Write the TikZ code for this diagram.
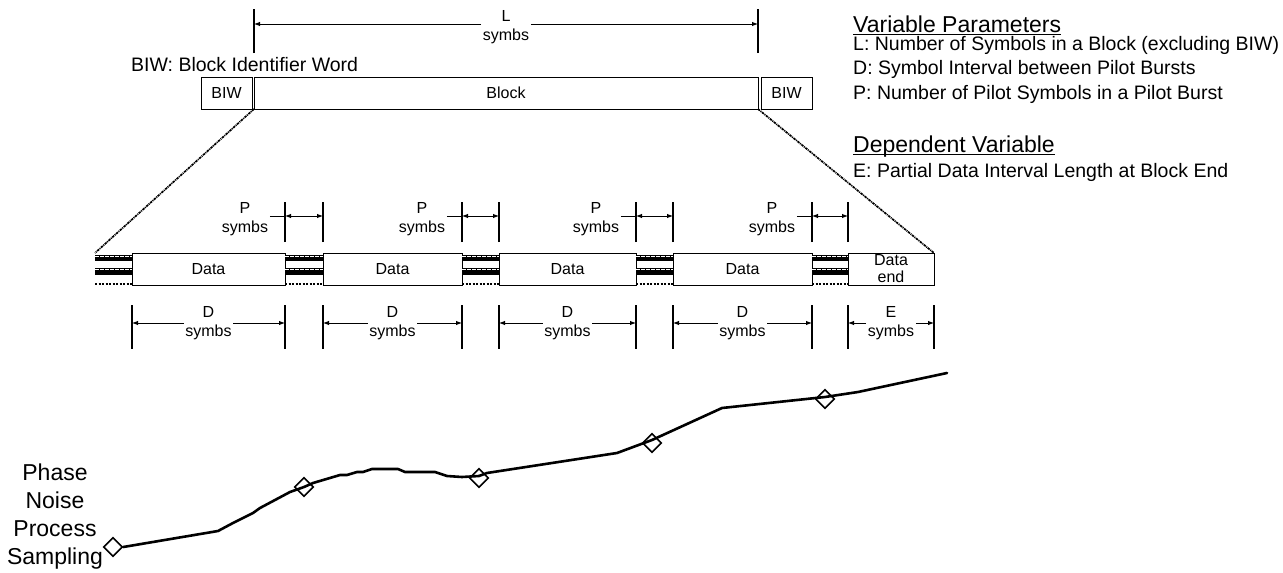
\documentclass[tikz,border=0pt]{standalone}
\usepackage{fontspec}
\setmainfont{Liberation Sans}
\usetikzlibrary{arrows.meta,positioning,shapes.geometric}

\begin{document}
\begin{tikzpicture}[x=1pt, y=-1pt,
                    >={Latex[length=6pt,width=4.5pt]},
                    every node/.style={font=\fontsize{16}{19}\selectfont},
                    box/.style={draw, line width=0.9pt, minimum height=32pt,
                                inner sep=0pt, outer sep=0pt, anchor=north west, align=center},
                    pilot/.style={minimum width=#1, minimum height=32pt, inner sep=0pt,
                                  outer sep=0pt, anchor=north west,
                                  path picture={
                                    \fill ([yshift=-2pt]path picture bounding box.north west)
                                      rectangle ([yshift=-8pt]path picture bounding box.north east);
                                    \fill ([yshift=-15pt]path picture bounding box.north west)
                                      rectangle ([yshift=-22pt]path picture bounding box.north east);
                                    \draw[white, line width=1.4pt, dash pattern=on 3.5pt off 1.5pt]
                                      ([yshift=-3.5pt]path picture bounding box.north west)
                                      -- ([yshift=-3.5pt]path picture bounding box.north east);
                                    \draw[white, line width=1.4pt, dash pattern=on 3.5pt off 1.5pt]
                                      ([yshift=-16.5pt]path picture bounding box.north west)
                                      -- ([yshift=-16.5pt]path picture bounding box.north east);
                                    \draw[line width=1.5pt, dash pattern=on 2pt off 1.5pt]
                                      ([yshift=-31pt]path picture bounding box.north west)
                                      -- ([yshift=-31pt]path picture bounding box.north east);}},
                    lbl/.style={align=center, inner sep=1.5pt},
                    tickln/.style={line width=1.8pt},
                    dimln/.style={line width=0.9pt},
                    zoomln/.style={line width=1.7pt, dash pattern=on 2.5pt off 0.8pt on 1pt off 0.8pt},
                    txt/.style={anchor=base west, inner sep=0pt, font=\fontsize{19.5}{23}\selectfont},
                    hd/.style={anchor=base west, inner sep=0pt, font=\fontsize{23}{27}\selectfont},
                    phase/.style={line width=2.6pt, line join=round, line cap=round},
                    smp/.style={diamond, draw, line width=1.6pt, minimum size=19pt, inner sep=0pt}]
\useasboundingbox (0,0) rectangle (1283,573);

% block with its identifier words
\node[box, minimum width=51pt]  (BIWl)  at (201,77) {BIW};
\node[box, minimum width=504pt] (Block) at (254,77) {Block};
\node[box, minimum width=51pt]  (BIWr)  at (761,77) {BIW};
\node[txt] (BIWdef) at (131,71) {BIW: Block Identifier Word};

\draw[tickln] ([yshift=24pt]Block.north west) -- ([yshift=68pt]Block.north west);
\draw[tickln] ([yshift=24pt]Block.north east) -- ([yshift=68pt]Block.north east);
\coordinate (Ll) at ([yshift=53pt]Block.north west);
\coordinate (Lr) at ([yshift=53pt]Block.north east);
\node[lbl] (Llbl) at ([yshift=50pt]Block.north) {L\\symbs};
\draw[dimln,->] (Llbl.west |- Ll) -- (Ll);
\draw[dimln,->] (Llbl.east |- Lr) -- (Lr);

% data and pilot bursts
\node[pilot=37pt] (pilot0) at (95,253)  {};
\node[box, minimum width=153pt] (data1) at (132,253) {Data};
\node[pilot=38pt] (pilot1) at (285,253) {};
\node[box, minimum width=139pt] (data2) at (323,253) {Data};
\node[pilot=37pt] (pilot2) at (462,253) {};
\node[box, minimum width=137pt] (data3) at (499,253) {Data};
\node[pilot=37pt] (pilot3) at (636,253) {};
\node[box, minimum width=139pt] (data4) at (673,253) {Data};
\node[pilot=36pt] (pilot4) at (812,253) {};
\node[box, minimum width=86pt, font=\fontsize{16}{17}\selectfont] (dataE) at (848,253) {Data\\end};

\draw[zoomln] (Block.south west) -- (pilot0.north west);
\draw[zoomln] (Block.south east) -- (dataE.north east);

% P symbs
\draw[tickln] ([yshift=11pt]pilot1.north west) -- ([yshift=51pt]pilot1.north west);
\draw[tickln] ([yshift=11pt]pilot1.north east) -- ([yshift=51pt]pilot1.north east);
\coordinate (P1l) at ([yshift=37pt]pilot1.north west);
\coordinate (P1r) at ([yshift=37pt]pilot1.north east);
\node[lbl] (P1lbl) at ([xshift=-40pt,yshift=34pt]pilot1.north west) {P\\symbs};
\draw[dimln] (P1lbl.east |- P1l) -- (P1l);
\draw[dimln,<->] (P1l) -- (P1r);

\draw[tickln] ([yshift=11pt]pilot2.north west) -- ([yshift=51pt]pilot2.north west);
\draw[tickln] ([yshift=11pt]pilot2.north east) -- ([yshift=51pt]pilot2.north east);
\coordinate (P2l) at ([yshift=37pt]pilot2.north west);
\coordinate (P2r) at ([yshift=37pt]pilot2.north east);
\node[lbl] (P2lbl) at ([xshift=-40pt,yshift=34pt]pilot2.north west) {P\\symbs};
\draw[dimln] (P2lbl.east |- P2l) -- (P2l);
\draw[dimln,<->] (P2l) -- (P2r);

\draw[tickln] ([yshift=11pt]pilot3.north west) -- ([yshift=51pt]pilot3.north west);
\draw[tickln] ([yshift=11pt]pilot3.north east) -- ([yshift=51pt]pilot3.north east);
\coordinate (P3l) at ([yshift=37pt]pilot3.north west);
\coordinate (P3r) at ([yshift=37pt]pilot3.north east);
\node[lbl] (P3lbl) at ([xshift=-40pt,yshift=34pt]pilot3.north west) {P\\symbs};
\draw[dimln] (P3lbl.east |- P3l) -- (P3l);
\draw[dimln,<->] (P3l) -- (P3r);

\draw[tickln] ([yshift=11pt]pilot4.north west) -- ([yshift=51pt]pilot4.north west);
\draw[tickln] ([yshift=11pt]pilot4.north east) -- ([yshift=51pt]pilot4.north east);
\coordinate (P4l) at ([yshift=37pt]pilot4.north west);
\coordinate (P4r) at ([yshift=37pt]pilot4.north east);
\node[lbl] (P4lbl) at ([xshift=-40pt,yshift=34pt]pilot4.north west) {P\\symbs};
\draw[dimln] (P4lbl.east |- P4l) -- (P4l);
\draw[dimln,<->] (P4l) -- (P4r);

% D and E symbs
\draw[tickln] ([yshift=-20pt]data1.south west) -- ([yshift=-64pt]data1.south west);
\draw[tickln] ([yshift=-20pt]data1.south east) -- ([yshift=-64pt]data1.south east);
\node[lbl] (D1) at ([yshift=-38pt]data1.south) {D\\symbs};
\draw[dimln,->] (D1.west) -- (D1.west -| data1.west);
\draw[dimln,->] (D1.east) -- (D1.east -| data1.east);

\draw[tickln] ([yshift=-20pt]data2.south west) -- ([yshift=-64pt]data2.south west);
\draw[tickln] ([yshift=-20pt]data2.south east) -- ([yshift=-64pt]data2.south east);
\node[lbl] (D2) at ([yshift=-38pt]data2.south) {D\\symbs};
\draw[dimln,->] (D2.west) -- (D2.west -| data2.west);
\draw[dimln,->] (D2.east) -- (D2.east -| data2.east);

\draw[tickln] ([yshift=-20pt]data3.south west) -- ([yshift=-64pt]data3.south west);
\draw[tickln] ([yshift=-20pt]data3.south east) -- ([yshift=-64pt]data3.south east);
\node[lbl] (D3) at ([yshift=-38pt]data3.south) {D\\symbs};
\draw[dimln,->] (D3.west) -- (D3.west -| data3.west);
\draw[dimln,->] (D3.east) -- (D3.east -| data3.east);

\draw[tickln] ([yshift=-20pt]data4.south west) -- ([yshift=-64pt]data4.south west);
\draw[tickln] ([yshift=-20pt]data4.south east) -- ([yshift=-64pt]data4.south east);
\node[lbl] (D4) at ([yshift=-38pt]data4.south) {D\\symbs};
\draw[dimln,->] (D4.west) -- (D4.west -| data4.west);
\draw[dimln,->] (D4.east) -- (D4.east -| data4.east);

\draw[tickln] ([yshift=-20pt]dataE.south west) -- ([yshift=-64pt]dataE.south west);
\draw[tickln] ([yshift=-20pt]dataE.south east) -- ([yshift=-64pt]dataE.south east);
\node[lbl] (E1) at ([yshift=-38pt]dataE.south) {E\\symbs};
\draw[dimln,->] (E1.west) -- (E1.west -| dataE.west);
\draw[dimln,->] (E1.east) -- (E1.east -| dataE.east);

% parameter list
\node[hd] (VarHd) at (853,32) {Variable Parameters};
\draw[line width=1.4pt] ([yshift=-2.5pt]VarHd.base west) -- ([yshift=-2.5pt]VarHd.base east);
\node[txt] (VarL) at (853,50) {L: Number of Symbols in a Block (excluding BIW)};
\node[txt, below=24.5pt of VarL.base west, anchor=base west] (VarD) {D: Symbol Interval between Pilot Bursts};
\node[txt, below=24.5pt of VarD.base west, anchor=base west] (VarP) {P: Number of Pilot Symbols in a Pilot Burst};
\node[hd] (DepHd) at (853,152) {Dependent Variable};
\draw[line width=1.4pt] ([yshift=-2.5pt]DepHd.base west) -- ([yshift=-2.5pt]DepHd.base east);
\node[txt, below=25pt of DepHd.base west, anchor=base west] (DepE) {E: Partial Data Interval Length at Block End};

% phase noise samples
\node[align=center, inner sep=0pt, font=\fontsize{23}{28}\selectfont] (PNPS) at (55,517)
  {Phase\\Noise\\Process\\Sampling};
\node[smp] (d1) at (113,547) {};
\node[smp] (d2) at (304,487) {};
\node[smp] (d3) at (479,478) {};
\node[smp] (d4) at (652,443) {};
\node[smp] (d5) at (825,399) {};
\draw[phase] (d1.east) -- (218,531) -- (233,523) -- (253,513) -- (260,508) -- (290,492)
  -- (304,487) -- (313,483) -- (340,475) -- (347,475) -- (357,472) -- (363,472)
  -- (372,469) -- (398,469) -- (405,472) -- (435,472) -- (447,476) -- (462,477)
  -- (479,476) -- (487,473) -- (617,453) -- (652,440) -- (722,408) -- (825,397)
  -- (858,392) -- (947,373);
\end{tikzpicture}
\end{document}
